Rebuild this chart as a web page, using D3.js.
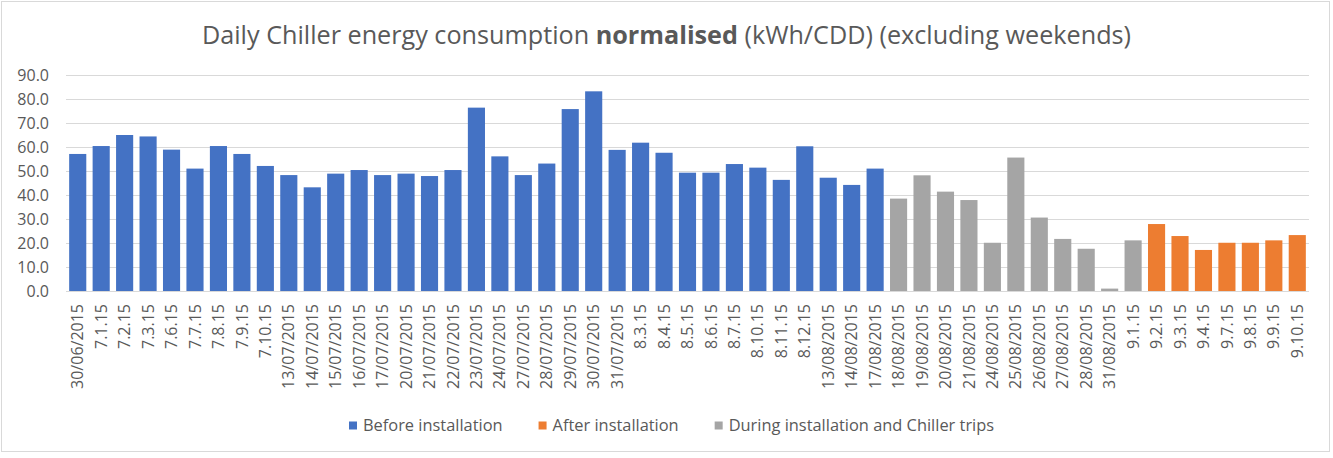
<!DOCTYPE html>
<html>
<head>
<meta charset="utf-8">
<script src="https://cdn.jsdelivr.net/npm/d3@7"></script>
<style>
  body { margin: 0; background: #fff; }
  svg { display: block; font-family: "Open Sans", sans-serif; }
</style>
</head>
<body>
<svg width="1333" height="458"></svg>
<script>
const dates = [
  '30/06/2015', '7.1.15', '7.2.15', '7.3.15', '7.6.15', '7.7.15', '7.8.15', '7.9.15', '7.10.15',
  '13/07/2015', '14/07/2015', '15/07/2015', '16/07/2015', '17/07/2015', '20/07/2015', '21/07/2015',
  '22/07/2015', '23/07/2015', '24/07/2015', '27/07/2015', '28/07/2015', '29/07/2015', '30/07/2015',
  '31/07/2015', '8.3.15', '8.4.15', '8.5.15', '8.6.15', '8.7.15', '8.10.15', '8.11.15', '8.12.15',
  '13/08/2015', '14/08/2015', '17/08/2015', '18/08/2015', '19/08/2015', '20/08/2015', '21/08/2015',
  '24/08/2015', '25/08/2015', '26/08/2015', '27/08/2015', '28/08/2015', '31/08/2015', '9.1.15',
  '9.2.15', '9.3.15', '9.4.15', '9.7.15', '9.8.15', '9.9.15', '9.10.15'
];

// kWh/CDD, one value per working day, split by phase
const beforeValues = [
  57.1, 60.4, 65.0, 64.4, 58.9, 51.0, 60.4, 57.1, 52.1, 48.3, 43.2, 48.9, 50.4, 48.3, 48.9, 47.9, 50.4,
  76.4, 56.1, 48.3, 53.1, 75.8, 83.2, 58.8, 61.8, 57.6, 49.3, 49.3, 52.9, 51.4, 46.3, 60.3, 47.2, 44.2, 51.0
];
const duringValues = [38.5, 48.2, 41.4, 37.9, 20.1, 55.6, 30.6, 21.7, 17.6, 1.0, 21.1];
const afterValues = [27.9, 22.9, 17.1, 20.1, 20.1, 21.1, 23.3];

const yTicks = [0, 10, 20, 30, 40, 50, 60, 70, 80, 90];

const series = [
  { name: 'Before installation', color: '#4472c4', values: beforeValues },
  { name: 'After installation', color: '#ed7d31', values: afterValues },
  { name: 'During installation and Chiller trips', color: '#a5a5a5', values: duringValues }
];
// order the bars appear along the x axis
const barOrder = [series[0], series[2], series[1]];

const bars = [];
barOrder.forEach(s => {
  s.values.forEach(v => {
    bars.push({ date: dates[bars.length], value: v, color: s.color });
  });
});

const svg = d3.select('svg');
const textColor = '#595959';

svg.append('rect')
  .attr('x', 1.5).attr('y', 1.5)
  .attr('width', 1328).attr('height', 450)
  .attr('fill', '#fff')
  .attr('stroke', '#d9d9d9');

const x = d3.scaleBand()
  .domain(dates)
  .range([66, 1309])
  .paddingInner(0.27)
  .paddingOuter(0.135);

const y = d3.scaleLinear()
  .domain([0, 90])
  .range([291, 75]);

// gridlines
svg.append('g')
  .selectAll('line')
  .data(yTicks)
  .join('line')
  .attr('x1', 66).attr('x2', 1309)
  .attr('y1', d => Math.round(y(d)) + 0.5)
  .attr('y2', d => Math.round(y(d)) + 0.5)
  .attr('stroke', '#d9d9d9');

// y axis labels
const yAxis = svg.append('g')
  .attr('transform', 'translate(49,0)')
  .call(d3.axisLeft(y).tickValues(yTicks).tickFormat(d3.format('.1f')).tickSize(0).tickPadding(0));
yAxis.select('.domain').remove();
yAxis.selectAll('text')
  .attr('fill', textColor)
  .style('font-size', '16px')
  .style('font-family', '"Open Sans", sans-serif');

// bars
svg.append('g')
  .selectAll('rect')
  .data(bars)
  .join('rect')
  .attr('x', d => x(d.date))
  .attr('width', x.bandwidth())
  .attr('y', d => y(d.value))
  .attr('height', d => y(0) - y(d.value))
  .attr('fill', d => d.color);

// x axis labels, rotated
const xAxis = svg.append('g')
  .attr('transform', 'translate(0,291)')
  .call(d3.axisBottom(x).tickSize(0).tickPadding(0));
xAxis.select('.domain').remove();
xAxis.selectAll('text')
  .attr('fill', textColor)
  .style('font-size', '16px')
  .style('font-family', '"Open Sans", sans-serif')
  .attr('text-anchor', 'end')
  .attr('transform', 'rotate(-90)')
  .attr('x', -13)
  .attr('y', 0)
  .attr('dy', '0.35em');

// title
const title = svg.append('text')
  .attr('x', 666.5)
  .attr('y', 43.5)
  .attr('text-anchor', 'middle')
  .attr('fill', textColor)
  .style('font-size', '25.2px');
title.append('tspan').text('Daily Chiller energy consumption ');
title.append('tspan').attr('font-weight', 'bold').text('normalised');
title.append('tspan').text(' (kWh/CDD) (excluding weekends)');

// legend
const legend = svg.append('g').attr('transform', 'translate(349,425.5)');
let lx = 0;
series.forEach(s => {
  const item = legend.append('g').attr('transform', `translate(${lx},0)`);
  item.append('rect')
    .attr('x', 0).attr('y', -4)
    .attr('width', 8).attr('height', 8)
    .attr('fill', s.color);
  const t = item.append('text')
    .attr('x', 14)
    .attr('dy', '0.35em')
    .attr('fill', textColor)
    .style('font-size', '16.4px')
    .text(s.name);
  lx += 14 + t.node().getComputedTextLength() + 36;
});
</script>
</body>
</html>
